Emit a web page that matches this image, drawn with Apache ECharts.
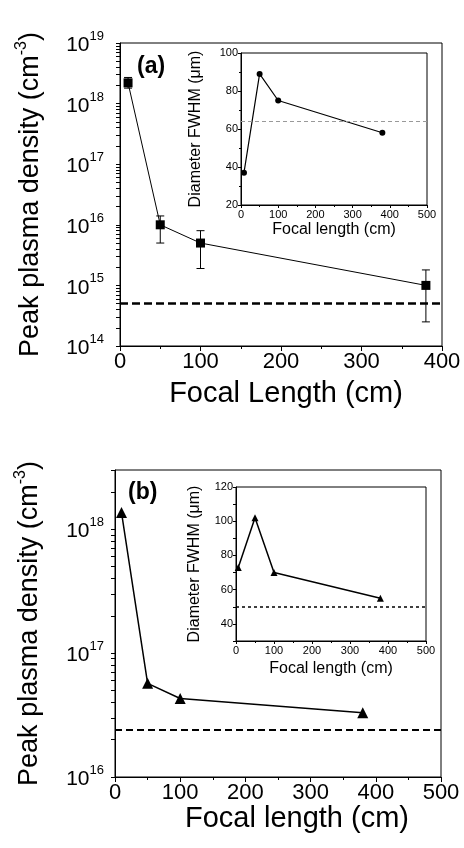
<!DOCTYPE html>
<html>
<head>
<meta charset="utf-8">
<script src="https://cdn.jsdelivr.net/npm/echarts@6/dist/echarts.min.js"></script>
<style>
  html, body { margin: 0; padding: 0; background: #fff; }
  #chart { width: 464px; height: 848px; }
</style>
</head>
<body>
<div id="chart"></div>
<script>
// panel (a) - main plot
const focalA = [10, 50, 100, 380]
const densityA = [2.2e18, 1.0e16, 5.0e15, 1.0e15]
const errLowA = [1.8e18, 5.0e15, 1.9e15, 2.5e14]
const errHighA = [2.7e18, 1.4e16, 8.0e15, 1.8e15]
const thresholdA = 5e14
// panel (a) - inset
const insetFocalA = [8, 50, 100, 380]
const diameterA = [37, 89, 75, 58]
const insetRefA = 64

// panel (b) - main plot
const focalB = [10, 50, 100, 380]
const densityB = [1.36e18, 5.7e16, 4.3e16, 3.3e16]
const thresholdB = 2.4e16
// panel (b) - inset
const insetFocalB = [6, 50, 100, 380]
const diameterB = [73, 102, 70, 55]
const insetRefB = 50

// tick labels
const decadesA = [1e14, 1e15, 1e16, 1e17, 1e18, 1e19]
const decadesB = [1e16, 1e17, 1e18]
const insetTicksB = [40, 60, 80, 100, 120]

const FONT = 'Liberation Sans, Arial, sans-serif'

// log minor ticks 1..9 x each decade, inside [lo, hi]
function logTicks(lo, hi) {
  const out = []
  for (let e = Math.round(Math.log10(lo)); e <= Math.round(Math.log10(hi)); e++) {
    for (let k = 1; k <= 9; k++) {
      const v = k * Math.pow(10, e)
      if (v >= lo * 0.999 && v <= hi * 1.001) out.push(v)
    }
  }
  return out
}

const pow10 = v => '{b|10}{s|' + Math.round(Math.log10(v)) + '}'
const powRich = {
  b: { fontSize: 21, fontFamily: FONT, color: '#000', verticalAlign: 'bottom', lineHeight: 26 },
  s: { fontSize: 13, fontFamily: FONT, color: '#000', verticalAlign: 'top' }
}
const densityName = '{t|Peak plasma density (cm}{s|-3}{t|)}'
const nameRich = {
  t: { fontSize: 27, fontFamily: FONT, color: '#000', verticalAlign: 'bottom', lineHeight: 30 },
  s: { fontSize: 16, fontFamily: FONT, color: '#000', verticalAlign: 'top' }
}

const zip = (xs, ys) => xs.map((x, i) => [x, ys[i]])

function errorBar(params, api) {
  const x = api.value(0)
  const lo = api.coord([x, api.value(1)])
  const hi = api.coord([x, api.value(2)])
  const w = 4
  const st = { stroke: '#000', lineWidth: 1 }
  return {
    type: 'group',
    children: [
      { type: 'line', shape: { x1: lo[0], y1: lo[1], x2: hi[0], y2: hi[1] }, style: st },
      { type: 'line', shape: { x1: lo[0] - w, y1: lo[1], x2: lo[0] + w, y2: lo[1] }, style: st },
      { type: 'line', shape: { x1: hi[0] - w, y1: hi[1], x2: hi[0] + w, y2: hi[1] }, style: st }
    ]
  }
}

function mainX(gridIndex, max, name, gap, pad) {
  return {
    type: 'value', gridIndex: gridIndex, min: 0, max: max, interval: 100,
    name: name, nameLocation: 'middle', nameGap: gap,
    nameTextStyle: { fontSize: 29, fontFamily: FONT, color: '#000', padding: pad },
    axisLine: { lineStyle: { color: '#000', width: 1 } },
    axisTick: { show: true, length: 5, inside: false, lineStyle: { color: '#000' } },
    minorTick: { show: true, splitNumber: 2, length: 3, lineStyle: { color: '#000' } },
    axisLabel: { fontSize: 22, fontFamily: FONT, color: '#000', margin: 5 },
    splitLine: { show: false }
  }
}

function mainY(gridIndex, lo, hi, decades, gap, margin) {
  return {
    type: 'log', gridIndex: gridIndex, min: lo, max: hi, logBase: 10,
    name: densityName, nameLocation: 'middle', nameGap: gap,
    nameTextStyle: { rich: nameRich },
    axisLine: { lineStyle: { color: '#000', width: 1 } },
    axisTick: { show: true, length: 4, customValues: logTicks(lo, hi), lineStyle: { color: '#000' } },
    axisLabel: { customValues: decades, formatter: pow10, rich: powRich, margin: margin },
    splitLine: { show: false }
  }
}

function insetX(gridIndex, gap) {
  return {
    type: 'value', gridIndex: gridIndex, min: 0, max: 500, interval: 100,
    name: 'Focal length (cm)', nameLocation: 'middle', nameGap: gap,
    nameTextStyle: { fontSize: 16, fontFamily: FONT, color: '#000' },
    axisLine: { lineStyle: { color: '#000', width: 1 } },
    axisTick: { length: 3, lineStyle: { color: '#000' } },
    minorTick: { show: true, splitNumber: 2, length: 2, lineStyle: { color: '#000' } },
    axisLabel: { fontSize: 11, fontFamily: FONT, color: '#000', margin: 4 },
    splitLine: { show: false }
  }
}

function insetY(gridIndex, min, max, gap, extra) {
  return Object.assign({
    type: 'value', gridIndex: gridIndex, min: min, max: max,
    name: 'Diameter FWHM (μm)', nameLocation: 'middle', nameGap: gap,
    nameTextStyle: { fontSize: 16, fontFamily: FONT, color: '#000' },
    axisLine: { lineStyle: { color: '#000', width: 1 } },
    axisTick: { length: 3, lineStyle: { color: '#000' } },
    axisLabel: { fontSize: 11, fontFamily: FONT, color: '#000', margin: 3 },
    splitLine: { show: false }
  }, extra)
}

const frame = { show: true, borderColor: '#000', borderWidth: 1, backgroundColor: 'transparent' }

const chart = echarts.init(document.getElementById('chart'), null, { renderer: 'canvas' })

const option = {
  backgroundColor: '#fff',
  animation: false,
  grid: [
    Object.assign({ left: 120, top: 43, width: 322, height: 303 }, frame),
    Object.assign({ left: 241, top: 53, width: 186, height: 152 }, frame),
    Object.assign({ left: 115, top: 470, width: 326, height: 307 }, frame),
    Object.assign({ left: 236, top: 487, width: 190, height: 154 }, frame)
  ],
  xAxis: [
    mainX(0, 400, 'Focal Length (cm)', 33, [0, 0, 0, 10]),
    insetX(1, 17),
    mainX(2, 500, 'Focal length (cm)', 25, [0, 0, 0, 38]),
    insetX(3, 20)
  ],
  yAxis: [
    mainY(0, 1e14, 1e19, decadesA, 76, 16),
    insetY(1, 20, 100, 37, {
      interval: 20,
      minorTick: { show: true, splitNumber: 2, length: 2, lineStyle: { color: '#000' } }
    }),
    mainY(2, 1e16, 3e18, decadesB, 72, 11),
    insetY(3, 30, 120, 33, {
      interval: 10,
      axisTick: { length: 3, lineStyle: { color: '#000' }, customValues: [30, 40, 50, 60, 70, 80, 90, 100, 110, 120] },
      axisLabel: { fontSize: 11, fontFamily: FONT, color: '#000', margin: 3, customValues: insetTicksB }
    })
  ],
  graphic: [
    { type: 'text', left: 137, top: 55, style: { text: '(a)', fontSize: 23, fontWeight: 'bold', fontFamily: FONT, fill: '#000' } },
    { type: 'text', left: 128, top: 481, style: { text: '(b)', fontSize: 23, fontWeight: 'bold', fontFamily: FONT, fill: '#000' } }
  ],
  series: [
    {
      type: 'custom', xAxisIndex: 0, yAxisIndex: 0, renderItem: errorBar, z: 3,
      data: focalA.map((x, i) => [x, errLowA[i], errHighA[i]])
    },
    {
      type: 'line', xAxisIndex: 0, yAxisIndex: 0, data: zip(focalA, densityA),
      symbol: 'rect', symbolSize: 9, z: 4,
      lineStyle: { color: '#000', width: 1 }, itemStyle: { color: '#000' },
      markLine: {
        silent: true, symbol: 'none', label: { show: false },
        lineStyle: { color: '#000', width: 2.5, type: [8, 4] },
        data: [{ yAxis: thresholdA }]
      }
    },
    {
      type: 'line', xAxisIndex: 1, yAxisIndex: 1, data: zip(insetFocalA, diameterA),
      symbol: 'circle', symbolSize: 6,
      lineStyle: { color: '#000', width: 1.2 }, itemStyle: { color: '#000' },
      markLine: {
        silent: true, symbol: 'none', label: { show: false },
        lineStyle: { color: '#999', width: 1, type: [4, 3] },
        data: [{ yAxis: insetRefA }]
      }
    },
    {
      type: 'line', xAxisIndex: 2, yAxisIndex: 2, data: zip(focalB, densityB),
      symbol: 'triangle', symbolSize: 11,
      lineStyle: { color: '#000', width: 1.5 }, itemStyle: { color: '#000' },
      markLine: {
        silent: true, symbol: 'none', label: { show: false },
        lineStyle: { color: '#000', width: 2, type: [7, 4] },
        data: [{ yAxis: thresholdB }]
      }
    },
    {
      type: 'line', xAxisIndex: 3, yAxisIndex: 3, data: zip(insetFocalB, diameterB),
      symbol: 'triangle', symbolSize: 7,
      lineStyle: { color: '#000', width: 1.5 }, itemStyle: { color: '#000' },
      markLine: {
        silent: true, symbol: 'none', label: { show: false },
        lineStyle: { color: '#000', width: 1.5, type: [3, 3] },
        data: [{ yAxis: insetRefB }]
      }
    }
  ]
}

chart.setOption(option)
</script>
</body>
</html>
